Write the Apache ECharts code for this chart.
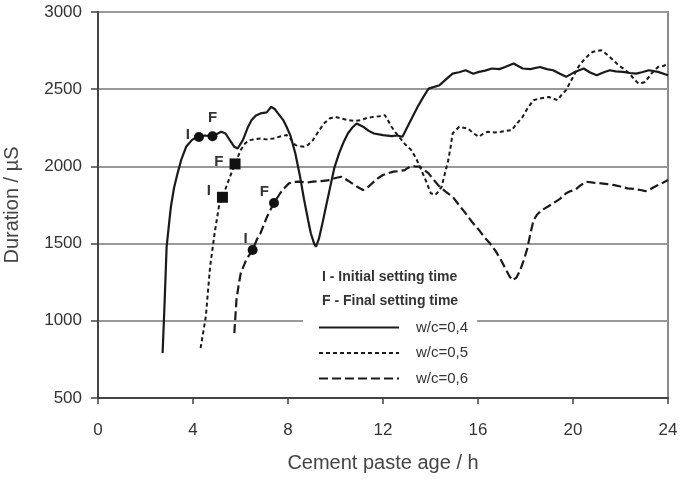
<!DOCTYPE html>
<html>
<head>
<meta charset="utf-8">
<script src="https://cdn.jsdelivr.net/npm/echarts@6/dist/echarts.min.js"></script>
<style>
html, body { margin: 0; padding: 0; background: #fff; }
#main { width: 683px; height: 481px; }
</style>
</head>
<body>
<div id="main"></div>
<script>
/////////// data ///////////
var ages40 = [2.72, 2.8, 2.89, 3.0, 3.07, 3.2, 3.35, 3.5, 3.71, 3.95, 4.17, 4.25, 4.5, 4.82, 5.0, 5.19, 5.37, 5.55, 5.74, 5.88, 6.1, 6.3, 6.47, 6.65, 6.84, 7.1, 7.3, 7.45, 7.58, 7.8, 7.94, 8.1, 8.31, 8.5, 8.68, 8.85, 8.96, 9.1, 9.18, 9.3, 9.42, 9.6, 9.78, 9.95, 10.15, 10.35, 10.52, 10.7, 10.89, 11.16, 11.4, 11.62, 12.0, 12.36, 12.6, 12.82, 13.1, 13.46, 13.7, 13.92, 14.38, 14.7, 14.93, 15.2, 15.48, 15.8, 16.04, 16.3, 16.59, 16.9, 17.14, 17.5, 17.88, 18.2, 18.61, 18.9, 19.16, 19.45, 19.71, 20.08, 20.45, 20.7, 21.0, 21.3, 21.55, 21.8, 22.1, 22.4, 22.66, 22.9, 23.2, 23.58, 24];
var dur40 = [791, 1100, 1481, 1640, 1739, 1860, 1955, 2040, 2127, 2170, 2192, 2190, 2200, 2195, 2210, 2224, 2213, 2170, 2127, 2116, 2170, 2250, 2300, 2330, 2343, 2350, 2386, 2370, 2343, 2300, 2257, 2200, 2084, 1940, 1782, 1650, 1567, 1500, 1481, 1530, 1610, 1740, 1869, 1990, 2084, 2160, 2213, 2250, 2278, 2257, 2230, 2213, 2203, 2196, 2200, 2192, 2278, 2386, 2450, 2504, 2526, 2570, 2601, 2610, 2623, 2600, 2612, 2620, 2634, 2630, 2644, 2666, 2634, 2630, 2644, 2630, 2623, 2600, 2580, 2612, 2634, 2610, 2590, 2610, 2623, 2615, 2612, 2605, 2601, 2610, 2623, 2612, 2590];

var ages50 = [4.32, 4.54, 4.72, 4.91, 5.09, 5.24, 5.5, 5.77, 6.01, 6.2, 6.38, 6.6, 6.84, 7.1, 7.39, 7.7, 7.94, 8.1, 8.31, 8.5, 8.68, 8.85, 9.05, 9.3, 9.51, 9.75, 9.97, 10.25, 10.52, 10.8, 11.06, 11.35, 11.62, 11.85, 12.08, 12.2, 12.36, 12.55, 12.73, 12.95, 13.19, 13.4, 13.55, 13.8, 14.01, 14.2, 14.35, 14.47, 14.6, 14.75, 14.85, 14.93, 15.21, 15.4, 15.58, 15.8, 16.04, 16.2, 16.4, 16.7, 16.96, 17.2, 17.42, 17.65, 17.88, 18.1, 18.34, 18.6, 18.98, 19.15, 19.35, 19.5, 19.71, 19.9, 20.08, 20.25, 20.45, 20.65, 20.82, 21.0, 21.19, 21.35, 21.55, 21.75, 21.92, 22.15, 22.38, 22.55, 22.75, 22.9, 23.03, 23.15, 23.3, 23.45, 23.58, 23.8, 24];
var dur50 = [823, 1028, 1351, 1567, 1739, 1800, 1910, 2016, 2106, 2150, 2170, 2175, 2181, 2175, 2181, 2195, 2203, 2180, 2138, 2130, 2127, 2140, 2170, 2230, 2278, 2310, 2321, 2310, 2300, 2295, 2300, 2315, 2321, 2325, 2332, 2300, 2257, 2215, 2181, 2140, 2106, 2050, 1998, 1910, 1826, 1815, 1840, 1869, 1950, 2041, 2130, 2213, 2257, 2250, 2246, 2215, 2192, 2210, 2224, 2220, 2224, 2230, 2235, 2280, 2321, 2380, 2429, 2440, 2450, 2440, 2429, 2460, 2494, 2550, 2601, 2650, 2688, 2720, 2741, 2748, 2752, 2735, 2709, 2680, 2655, 2630, 2601, 2570, 2537, 2540, 2547, 2570, 2601, 2625, 2644, 2650, 2666];

var ages60 = [5.74, 5.83, 5.92, 6.01, 6.24, 6.51, 6.7, 6.84, 7.12, 7.41, 7.67, 7.85, 8.04, 8.25, 8.5, 8.8, 9.05, 9.4, 9.78, 10.0, 10.24, 10.45, 10.7, 10.95, 11.16, 11.4, 11.62, 11.8, 12.0, 12.2, 12.45, 12.7, 12.91, 13.05, 13.19, 13.35, 13.55, 13.75, 13.92, 14.15, 14.38, 14.65, 14.93, 15.2, 15.48, 15.75, 16.04, 16.25, 16.5, 16.75, 16.96, 17.15, 17.33, 17.45, 17.51, 17.62, 17.78, 17.92, 18.06, 18.2, 18.34, 18.5, 18.7, 18.95, 19.16, 19.45, 19.71, 19.9, 20.08, 20.3, 20.54, 20.85, 21.19, 21.45, 21.74, 22.0, 22.29, 22.55, 22.84, 23.05, 23.2, 23.4, 23.58, 23.8, 24];
var dur60 = [920, 1136, 1230, 1308, 1395, 1459, 1530, 1567, 1675, 1763, 1826, 1860, 1890, 1900, 1901, 1895, 1901, 1905, 1912, 1925, 1933, 1915, 1890, 1865, 1847, 1870, 1901, 1925, 1944, 1955, 1966, 1970, 1976, 1990, 2002, 2000, 1998, 1975, 1955, 1910, 1869, 1835, 1804, 1750, 1696, 1640, 1589, 1545, 1502, 1450, 1395, 1340, 1287, 1262, 1254, 1280, 1330, 1390, 1459, 1560, 1653, 1690, 1718, 1740, 1761, 1790, 1826, 1840, 1847, 1875, 1901, 1895, 1890, 1885, 1879, 1870, 1858, 1855, 1847, 1840, 1847, 1865, 1879, 1895, 1912];

// setting times: I = initial, F = final
var setTags = ['I', 'F'];
var setAges40 = [4.25, 4.82];
var setDur40 = [2190, 2195];
var setAges50 = [5.24, 5.77];
var setDur50 = [1800, 2016];
var setAges60 = [6.51, 7.41];
var setDur60 = [1459, 1763];

var seriesNames = ['w/c=0,4', 'w/c=0,5', 'w/c=0,6'];
var xTicks = [0, 4, 8, 12, 16, 20, 24];

/////////////////////////////
function zipData(xs, ys) {
    var out = [];
    for (var i = 0; i < xs.length; i++) {
        out.push([xs[i], ys[i]]);
    }
    return out;
}

// label offsets for each I/F marker (style only)
function markData(xs, ys, labelCfgs) {
    var out = [];
    for (var i = 0; i < xs.length; i++) {
        out.push({
            name: setTags[i],
            value: [xs[i], ys[i]],
            label: labelCfgs[i]
        });
    }
    return out;
}

var FONT = '"Liberation Sans", Arial, sans-serif';
var chart = echarts.init(document.getElementById('main'), null, { renderer: 'canvas' });

var markLabel = {
    show: true,
    formatter: '{b}',
    fontFamily: FONT,
    fontSize: 15,
    fontWeight: 'bold',
    color: '#333'
};

var option = {
    animation: false,
    backgroundColor: '#fff',
    grid: {
        left: 98,
        right: 15,
        top: 12,
        bottom: 83,
        containLabel: false,
        outerBoundsMode: 'none',
        show: true,
        borderColor: '#8a8a8a',
        borderWidth: 2,
        backgroundColor: 'transparent'
    },
    xAxis: {
        type: 'value',
        min: 0,
        max: 24,
        interval: 4,
        name: 'Cement paste age / h',
        nameLocation: 'middle',
        nameGap: 55,
        nameTextStyle: { fontFamily: FONT, fontSize: 20, color: '#444' },
        axisLine: { show: true, lineStyle: { color: '#444', width: 2 } },
        axisTick: { show: true, length: 6, lineStyle: { color: '#444', width: 1.5 } },
        axisLabel: {
            margin: 24,
            fontFamily: FONT,
            fontSize: 17,
            color: '#333',
            customValues: xTicks
        },
        splitLine: { show: false }
    },
    yAxis: {
        type: 'value',
        min: 500,
        max: 3000,
        interval: 500,
        name: 'Duration / µS',
        nameLocation: 'middle',
        nameGap: 76,
        nameRotate: 90,
        nameTextStyle: { fontFamily: FONT, fontSize: 20, color: '#444' },
        axisLine: { show: true, lineStyle: { color: '#444', width: 2 } },
        axisTick: { show: true, length: 7, lineStyle: { color: '#444', width: 1.5 } },
        axisLabel: {
            margin: 16,
            fontFamily: FONT,
            fontSize: 17,
            color: '#333',
            formatter: function (v) { return String(v); }
        },
        splitLine: { show: true, lineStyle: { color: '#999', width: 2 } }
    },
    legend: {
        orient: 'vertical',
        left: 303,
        top: 252,
        padding: [68, 9, 6, 15],
        backgroundColor: '#fff',
        itemWidth: 80,
        itemHeight: 14,
        itemGap: 10.5,
        itemStyle: { opacity: 0 },
        data: seriesNames,
        textStyle: {
            fontFamily: FONT,
            fontSize: 15,
            color: '#333',
            padding: [0, 0, 0, 12]
        }
    },
    graphic: [{
        type: 'text',
        left: 322,
        top: 270,
        z: 100,
        style: {
            text: 'I - Initial setting time',
            font: 'bold 14px "Liberation Sans", Arial, sans-serif',
            fill: '#333'
        }
    }, {
        type: 'text',
        left: 322,
        top: 294,
        z: 100,
        style: {
            text: 'F - Final setting time',
            font: 'bold 14px "Liberation Sans", Arial, sans-serif',
            fill: '#333'
        }
    }],
    series: [{
        name: seriesNames[0],
        type: 'line',
        symbol: 'none',
        lineStyle: { color: '#1a1a1a', width: 2.2, type: 'solid' },
        itemStyle: { color: '#1a1a1a' },
        data: zipData(ages40, dur40),
        z: 3
    }, {
        name: seriesNames[1],
        type: 'line',
        symbol: 'none',
        lineStyle: { color: '#1a1a1a', width: 2, type: [4, 3] },
        itemStyle: { color: '#1a1a1a' },
        data: zipData(ages50, dur50),
        z: 3
    }, {
        name: seriesNames[2],
        type: 'line',
        symbol: 'none',
        lineStyle: { color: '#1a1a1a', width: 2.2, type: [9, 4] },
        itemStyle: { color: '#1a1a1a' },
        data: zipData(ages60, dur60),
        z: 3
    }, {
        name: 'set40',
        type: 'scatter',
        symbol: 'circle',
        symbolSize: 10,
        itemStyle: { color: '#111', opacity: 1 },
        label: markLabel,
        data: markData(setAges40, setDur40, [
            { position: 'left', distance: 4, offset: [0, -2] },
            { position: 'top', distance: 4, offset: [0, -2] }
        ]),
        z: 5
    }, {
        name: 'set50',
        type: 'scatter',
        symbol: 'rect',
        symbolSize: 11,
        itemStyle: { color: '#111', opacity: 1 },
        label: markLabel,
        data: markData(setAges50, setDur50, [
            { position: 'left', distance: 6, offset: [0, -6] },
            { position: 'left', distance: 6, offset: [0, -2] }
        ]),
        z: 5
    }, {
        name: 'set60',
        type: 'scatter',
        symbol: 'circle',
        symbolSize: 10,
        itemStyle: { color: '#111', opacity: 1 },
        label: markLabel,
        data: markData(setAges60, setDur60, [
            { position: 'left', distance: 2, offset: [2, -11] },
            { position: 'left', distance: 2, offset: [2, -11] }
        ]),
        z: 5
    }]
};

chart.setOption(option);
</script>
</body>
</html>
